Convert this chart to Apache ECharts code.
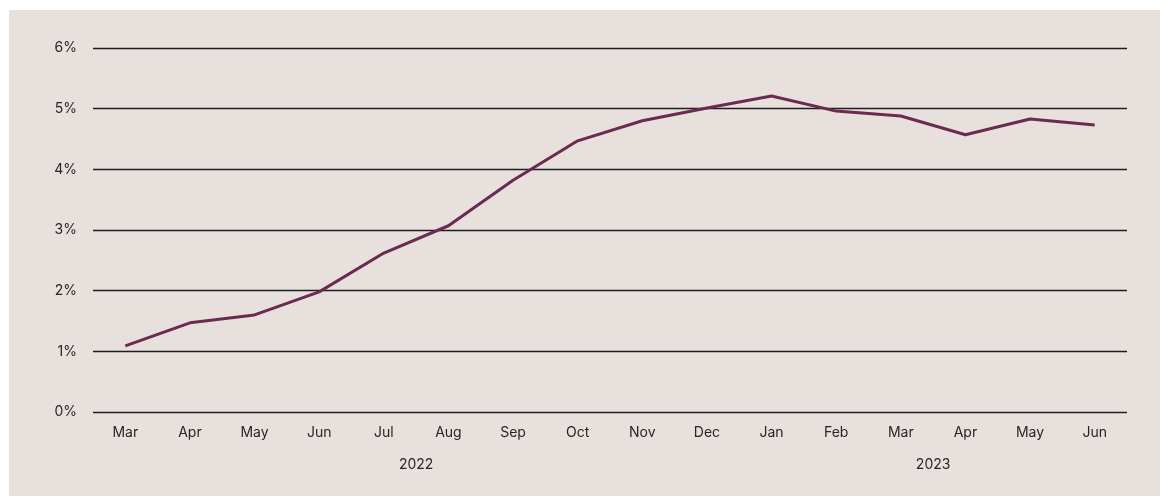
<!DOCTYPE html>
<html>
<head>
<meta charset="utf-8">
<script src="https://cdn.jsdelivr.net/npm/echarts@6/dist/echarts.min.js"></script>
<style>
html,body{margin:0;padding:0;background:#ffffff;}
#chart{width:1160px;height:497px;}
</style>
</head>
<body>
<div id="chart"></div>
<script>
const months = ['Mar','Apr','May','Jun','Jul','Aug','Sep','Oct','Nov','Dec','Jan','Feb','Mar','Apr','May','Jun'];
const values = [1.09, 1.47, 1.60, 1.98, 2.62, 3.07, 3.82, 4.47, 4.80, 5.01, 5.21, 4.96, 4.88, 4.57, 4.83, 4.73];
const yearSlots = ['', '', '', '', '', '2022', '', '', '', '', '', '', '', '2023', '', '', ''];
const yTicks = { min: 0, max: 6, interval: 1 };

const chart = echarts.init(document.getElementById('chart'));
const font = 'Inter, "Noto Sans", sans-serif';
chart.setOption({
  backgroundColor: '#ffffff',
  animation: false,
  graphic: [{
    type: 'rect', z: -10, silent: true,
    shape: { x: 9, y: 10, width: 1151, height: 486 },
    style: { fill: '#e7e0dc' }
  }],
  grid: { left: 93, right: 33, top: 48, bottom: 85 },
  xAxis: [{
    type: 'category',
    data: months,
    boundaryGap: true,
    axisLine: { show: false },
    axisTick: { show: false },
    axisLabel: { color: '#262626', fontSize: 14, fontFamily: font, margin: 14, interval: 0 }
  }, {
    type: 'category',
    data: yearSlots,
    position: 'bottom',
    offset: 32,
    boundaryGap: false,
    axisLine: { show: false },
    axisTick: { show: false },
    axisLabel: { color: '#262626', fontSize: 14, fontFamily: font, margin: 14, interval: 0 }
  }],
  yAxis: {
    type: 'value',
    min: yTicks.min, max: yTicks.max, interval: yTicks.interval,
    axisLine: { show: false },
    axisTick: { show: false },
    axisLabel: { color: '#262626', fontSize: 14, fontFamily: font, margin: 16, formatter: v => v + '%' },
    splitLine: { lineStyle: { color: '#1e1e1e', width: 1.3 } }
  },
  series: [{
    type: 'line',
    data: values,
    xAxisIndex: 0,
    symbol: 'none',
    lineStyle: { color: '#6b2b50', width: 3 },
    z: 5
  }]
});
</script>
</body>
</html>
